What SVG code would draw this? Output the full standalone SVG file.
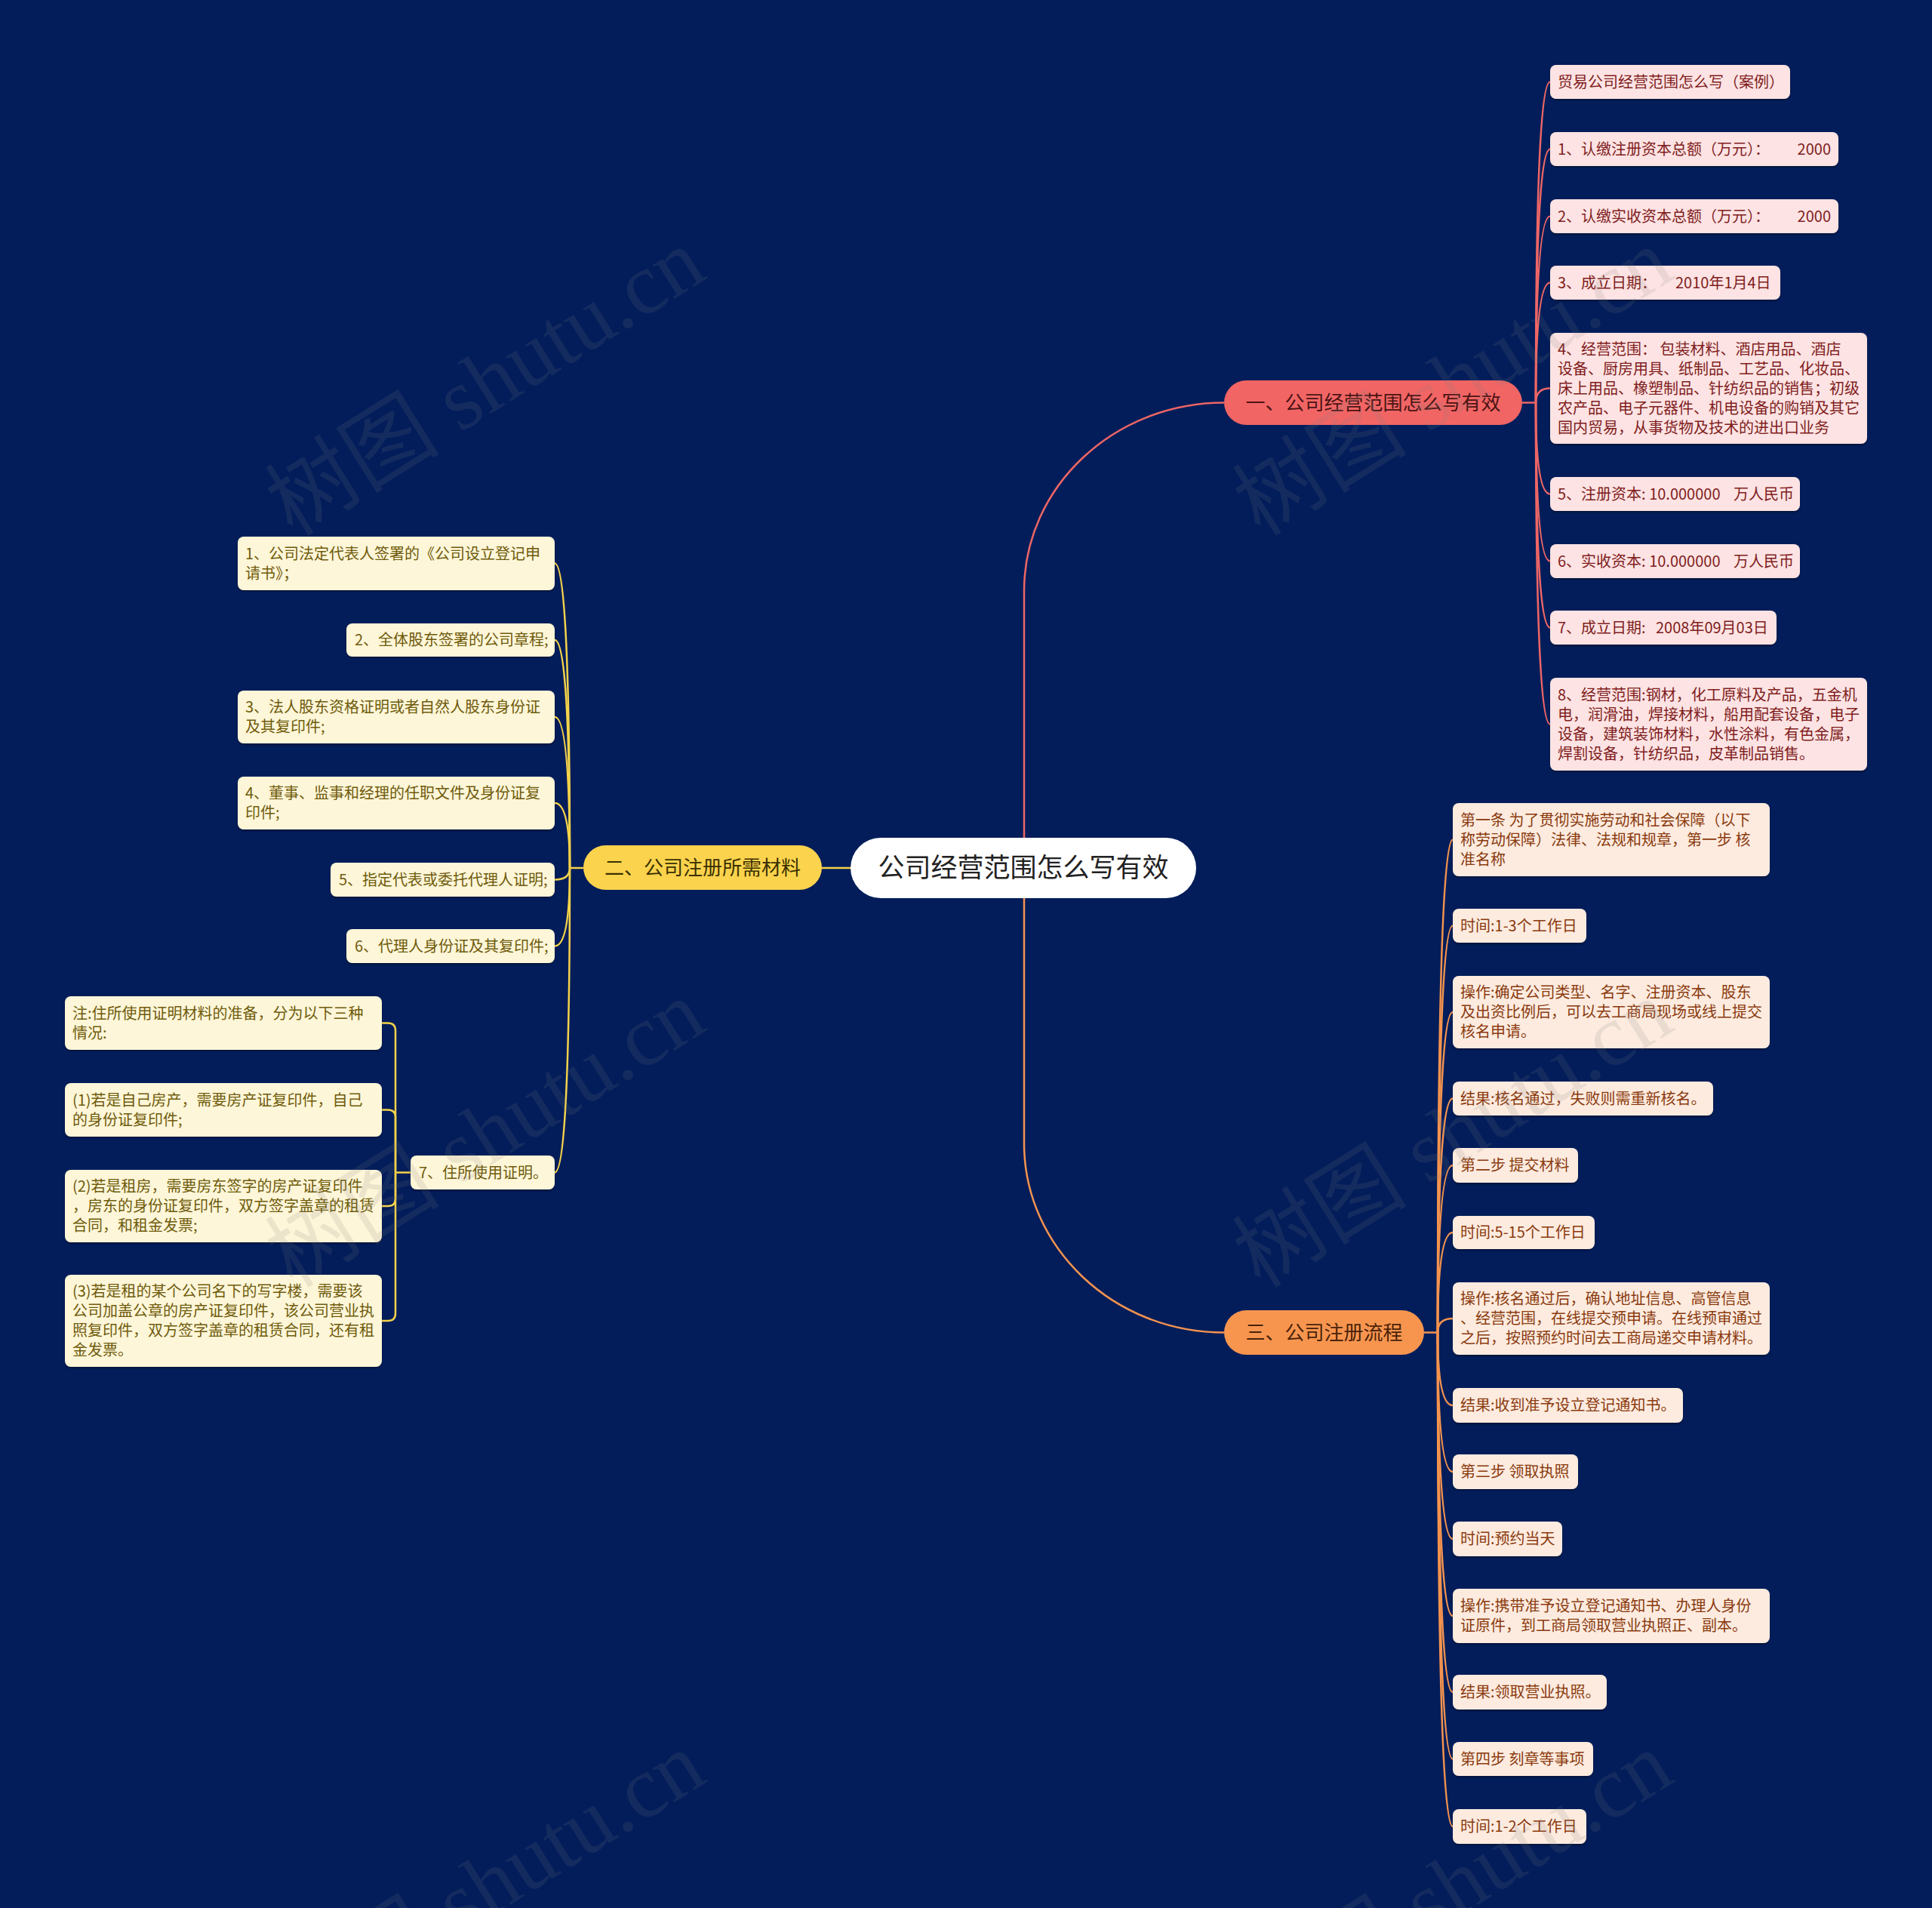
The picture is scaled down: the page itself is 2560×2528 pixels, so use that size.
<svg xmlns="http://www.w3.org/2000/svg" width="2560" height="2528" viewBox="0 0 2560 2528">
<defs>
<filter id="sh" x="-5%" y="-20%" width="110%" height="150%"><feDropShadow dx="0" dy="2" stdDeviation="1" flood-color="#000" flood-opacity="0.35"/></filter>
<style>
text{font-family:"Noto Sans CJK SC","Noto Sans",sans-serif;}
.lr{fill:#FDE3E3;filter:url(#sh)}
.lo{fill:#FDEBDF;filter:url(#sh)}
.ly{fill:#FEF6D8;filter:url(#sh)}
.tr{fill:#7F1D1D;font-size:20px}
.to{fill:#8A3A0E;font-size:20px}
.ty{fill:#6E5B0C;font-size:20px}
.bt{font-size:26px;text-anchor:middle}
.cr{fill:none;stroke:#EE6666;stroke-width:2.5}
.co{fill:none;stroke:#F4934F;stroke-width:2.5}
.cy{fill:none;stroke:#F5D24A;stroke-width:2.5}
.wm{font-family:"Liberation Serif","Noto Sans CJK SC",serif;font-size:116px;fill:#808080;opacity:0.14}
</style>
</defs>
<rect width="2560" height="2528" fill="#021D5A"/>
<g id="connectors">
<path class="cr" d="M1357 1150 V783 C1357 645 1476 533.5 1622 533.5" stroke-width="3"/>
<path class="co" d="M1357 1150 V1515 C1357 1653 1476 1765.5 1622 1765.5" stroke-width="3"/>
<path class="cy" d="M1357 1150 H1089" stroke-width="3"/>
<path class="cr" d="M2017 533.5 H2035"/>
<path class="cr" d="M2035 533.5 Q2035 108.5 2054 108.5"/>
<path class="cr" d="M2035 533.5 Q2035 197.5 2054 197.5"/>
<path class="cr" d="M2035 533.5 Q2035 286.5 2054 286.5"/>
<path class="cr" d="M2035 533.5 Q2035 374.5 2054 374.5"/>
<path class="cr" d="M2035 533.5 Q2035 514.5 2054 514.5"/>
<path class="cr" d="M2035 533.5 Q2035 654.5 2054 654.5"/>
<path class="cr" d="M2035 533.5 Q2035 743.5 2054 743.5"/>
<path class="cr" d="M2035 533.5 Q2035 831.5 2054 831.5"/>
<path class="cr" d="M2035 533.5 Q2035 959.5 2054 959.5"/>
<path class="co" d="M1887 1765.5 H1905"/>
<path class="co" d="M1905 1765.5 Q1905 1112.5 1925 1112.5"/>
<path class="co" d="M1905 1765.5 Q1905 1226.5 1925 1226.5"/>
<path class="co" d="M1905 1765.5 Q1905 1341 1925 1341"/>
<path class="co" d="M1905 1765.5 Q1905 1455.5 1925 1455.5"/>
<path class="co" d="M1905 1765.5 Q1905 1544 1925 1544"/>
<path class="co" d="M1905 1765.5 Q1905 1633 1925 1633"/>
<path class="co" d="M1905 1765.5 Q1905 1747 1925 1747"/>
<path class="co" d="M1905 1765.5 Q1905 1862 1925 1862"/>
<path class="co" d="M1905 1765.5 Q1905 1950 1925 1950"/>
<path class="co" d="M1905 1765.5 Q1905 2039 1925 2039"/>
<path class="co" d="M1905 1765.5 Q1905 2141 1925 2141"/>
<path class="co" d="M1905 1765.5 Q1905 2242 1925 2242"/>
<path class="co" d="M1905 1765.5 Q1905 2330.5 1925 2330.5"/>
<path class="co" d="M1905 1765.5 Q1905 2420 1925 2420"/>
<path class="cy" d="M773 1150 H755"/>
<path class="cy" d="M755 1150 Q755 746.5 735 746.5"/>
<path class="cy" d="M755 1150 Q755 848 735 848"/>
<path class="cy" d="M755 1150 Q755 950 735 950"/>
<path class="cy" d="M755 1150 Q755 1064 735 1064"/>
<path class="cy" d="M755 1150 Q755 1165.5 735 1165.5"/>
<path class="cy" d="M755 1150 Q755 1253.5 735 1253.5"/>
<path class="cy" d="M755 1150 Q755 1553.5 735 1553.5"/>
<path class="cy" d="M544 1553.5 H524"/>
<path class="cy" d="M524 1553.5 V1365.5 Q524 1355.5 514 1355.5 H506"/>
<path class="cy" d="M524 1553.5 V1480.5 Q524 1470.5 514 1470.5 H506"/>
<path class="cy" d="M524 1553.5 V1588 Q524 1598 514 1598 H506"/>
<path class="cy" d="M524 1553.5 V1740 Q524 1750 514 1750 H506"/>
</g>
<g id="root">
<rect x="1127" y="1110" width="458" height="80" rx="40" fill="#FFFFFF"/>
<text x="1356" y="1162" font-size="35" text-anchor="middle" fill="#222222">公司经营范围怎么写有效</text>
</g>
<g id="b1">
<rect x="1622" y="504" width="395" height="59" rx="29.5" fill="#F26565"/>
<text class="bt" x="1819.5" y="543" fill="#4A1414">一、公司经营范围怎么写有效</text>
</g>
<g id="b2">
<rect x="773" y="1120" width="316" height="59" rx="29.5" fill="#FBD34D"/>
<text class="bt" x="931" y="1159" fill="#3A3000">二、公司注册所需材料</text>
</g>
<g id="b3">
<rect x="1622" y="1736" width="265" height="59" rx="29.5" fill="#F7954F"/>
<text class="bt" x="1754.5" y="1775" fill="#4A2208">三、公司注册流程</text>
</g>
<g id="p1"><rect class="lr" x="2054" y="86" width="318" height="45" rx="8"/><text class="tr" x="2064" y="115.5">贸易公司经营范围怎么写（案例）</text></g>
<g id="p2"><rect class="lr" x="2054" y="175" width="382" height="45" rx="8"/><text class="tr" x="2064" y="204.5">1、认缴注册资本总额（万元）：</text><text class="tr" x="2426" y="204.5" text-anchor="end">2000</text></g>
<g id="p3"><rect class="lr" x="2054" y="264" width="382" height="45" rx="8"/><text class="tr" x="2064" y="293.5">2、认缴实收资本总额（万元）：</text><text class="tr" x="2426" y="293.5" text-anchor="end">2000</text></g>
<g id="p4"><rect class="lr" x="2054" y="352" width="305" height="45" rx="8"/><text class="tr" x="2064" y="381.5">3、成立日期：<tspan x="2220">2010年1月4日</tspan></text></g>
<g id="p5"><rect class="lr" x="2054" y="441" width="420" height="147" rx="8"/><text class="tr"><tspan x="2064" y="469.5">4、经营范围：  包装材料、酒店用品、酒店</tspan><tspan x="2064" y="495.5">设备、厨房用具、纸制品、工艺品、化妆品、</tspan><tspan x="2064" y="521.5">床上用品、橡塑制品、针纺织品的销售；初级</tspan><tspan x="2064" y="547.5">农产品、电子元器件、机电设备的购销及其它</tspan><tspan x="2064" y="573.5">国内贸易，从事货物及技术的进出口业务</tspan></text></g>
<g id="p6"><rect class="lr" x="2054" y="632" width="331" height="45" rx="8"/><text class="tr" x="2064" y="661.5">5、注册资本: 10.000000<tspan x="2297">万人民币</tspan></text></g>
<g id="p7"><rect class="lr" x="2054" y="721" width="331" height="45" rx="8"/><text class="tr" x="2064" y="750.5">6、实收资本: 10.000000<tspan x="2297">万人民币</tspan></text></g>
<g id="p8"><rect class="lr" x="2054" y="809" width="300" height="45" rx="8"/><text class="tr" x="2064" y="838.5">7、成立日期:<tspan x="2194">2008年09月03日</tspan></text></g>
<g id="p9"><rect class="lr" x="2054" y="898" width="420" height="123" rx="8"/><text class="tr"><tspan x="2064" y="927.5">8、经营范围:钢材，化工原料及产品，五金机</tspan><tspan x="2064" y="953.5">电，润滑油，焊接材料，船用配套设备，电子</tspan><tspan x="2064" y="979.5">设备，建筑装饰材料，水性涂料，有色金属，</tspan><tspan x="2064" y="1005.5">焊割设备，针纺织品，皮革制品销售。</tspan></text></g>
<g id="o1"><rect class="lo" x="1925" y="1064" width="420" height="97" rx="8"/><text class="to"><tspan x="1935" y="1093.5">第一条 为了贯彻实施劳动和社会保障（以下</tspan><tspan x="1935" y="1119.5">称劳动保障）法律、法规和规章，第一步 核</tspan><tspan x="1935" y="1145.5">准名称</tspan></text></g>
<g id="o2"><rect class="lo" x="1925" y="1204" width="177" height="45" rx="8"/><text class="to" x="1935" y="1233.5">时间:1-3个工作日</text></g>
<g id="o3"><rect class="lo" x="1925" y="1293" width="420" height="96" rx="8"/><text class="to"><tspan x="1935" y="1322">操作:确定公司类型、名字、注册资本、股东</tspan><tspan x="1935" y="1348">及出资比例后，可以去工商局现场或线上提交</tspan><tspan x="1935" y="1374">核名申请。</tspan></text></g>
<g id="o4"><rect class="lo" x="1925" y="1433" width="345" height="45" rx="8"/><text class="to" x="1935" y="1462.5">结果:核名通过，失败则需重新核名。</text></g>
<g id="o5"><rect class="lo" x="1925" y="1521" width="166" height="46" rx="8"/><text class="to" x="1935" y="1551">第二步 提交材料</text></g>
<g id="o6"><rect class="lo" x="1925" y="1611" width="188" height="44" rx="8"/><text class="to" x="1935" y="1640">时间:5-15个工作日</text></g>
<g id="o7"><rect class="lo" x="1925" y="1699" width="420" height="96" rx="8"/><text class="to"><tspan x="1935" y="1728">操作:核名通过后，确认地址信息、高管信息</tspan><tspan x="1935" y="1754">、经营范围，在线提交预申请。在线预审通过</tspan><tspan x="1935" y="1780">之后，按照预约时间去工商局递交申请材料。</tspan></text></g>
<g id="o8"><rect class="lo" x="1925" y="1839" width="305" height="46" rx="8"/><text class="to" x="1935" y="1869">结果:收到准予设立登记通知书。</text></g>
<g id="o9"><rect class="lo" x="1925" y="1927" width="166" height="46" rx="8"/><text class="to" x="1935" y="1957">第三步 领取执照</text></g>
<g id="o10"><rect class="lo" x="1925" y="2016" width="145" height="46" rx="8"/><text class="to" x="1935" y="2046">时间:预约当天</text></g>
<g id="o11"><rect class="lo" x="1925" y="2105" width="420" height="72" rx="8"/><text class="to"><tspan x="1935" y="2135">操作:携带准予设立登记通知书、办理人身份</tspan><tspan x="1935" y="2161">证原件，到工商局领取营业执照正、副本。</tspan></text></g>
<g id="o12"><rect class="lo" x="1925" y="2219" width="204" height="46" rx="8"/><text class="to" x="1935" y="2249">结果:领取营业执照。</text></g>
<g id="o13"><rect class="lo" x="1925" y="2308" width="186" height="45" rx="8"/><text class="to" x="1935" y="2337.5">第四步 刻章等事项</text></g>
<g id="o14"><rect class="lo" x="1925" y="2397" width="177" height="46" rx="8"/><text class="to" x="1935" y="2427">时间:1-2个工作日</text></g>
<g id="y1"><rect class="ly" x="315" y="711" width="420" height="71" rx="8"/><text class="ty"><tspan x="325" y="740.5">1、公司法定代表人签署的《公司设立登记申</tspan><tspan x="325" y="766.5">请书》；</tspan></text></g>
<g id="y2"><rect class="ly" x="459" y="826" width="276" height="44" rx="8"/><text class="ty" x="470" y="855">2、全体股东签署的公司章程;</text></g>
<g id="y3"><rect class="ly" x="315" y="915" width="420" height="70" rx="8"/><text class="ty"><tspan x="325" y="944">3、法人股东资格证明或者自然人股东身份证</tspan><tspan x="325" y="970">及其复印件;</tspan></text></g>
<g id="y4"><rect class="ly" x="315" y="1029" width="420" height="70" rx="8"/><text class="ty"><tspan x="325" y="1058">4、董事、监事和经理的任职文件及身份证复</tspan><tspan x="325" y="1084">印件;</tspan></text></g>
<g id="y5"><rect class="ly" x="438" y="1143" width="297" height="45" rx="8"/><text class="ty" x="449" y="1172.5">5、指定代表或委托代理人证明;</text></g>
<g id="y6"><rect class="ly" x="459" y="1231" width="276" height="45" rx="8"/><text class="ty" x="470" y="1260.5">6、代理人身份证及其复印件;</text></g>
<g id="y7"><rect class="ly" x="544" y="1531" width="191" height="45" rx="8"/><text class="ty" x="555" y="1560.5">7、住所使用证明。</text></g>
<g id="y7a"><rect class="ly" x="86" y="1320" width="420" height="71" rx="8"/><text class="ty"><tspan x="96" y="1349.5">注:住所使用证明材料的准备，分为以下三种</tspan><tspan x="96" y="1375.5">情况:</tspan></text></g>
<g id="y7b"><rect class="ly" x="86" y="1435" width="420" height="71" rx="8"/><text class="ty"><tspan x="96" y="1464.5">(1)若是自己房产，需要房产证复印件，自己</tspan><tspan x="96" y="1490.5">的身份证复印件;</tspan></text></g>
<g id="y7c"><rect class="ly" x="86" y="1550" width="420" height="96" rx="8"/><text class="ty"><tspan x="96" y="1579">(2)若是租房，需要房东签字的房产证复印件</tspan><tspan x="96" y="1605">，房东的身份证复印件，双方签字盖章的租赁</tspan><tspan x="96" y="1631">合同，和租金发票;</tspan></text></g>
<g id="y7d"><rect class="ly" x="86" y="1689" width="420" height="122" rx="8"/><text class="ty"><tspan x="96" y="1718">(3)若是租的某个公司名下的写字楼，需要该</tspan><tspan x="96" y="1744">公司加盖公章的房产证复印件，该公司营业执</tspan><tspan x="96" y="1770">照复印件，双方签字盖章的租赁合同，还有租</tspan><tspan x="96" y="1796">金发票。</tspan></text></g>
<g id="watermarks">
<text class="wm" transform="translate(388 712) rotate(-32)">树图 shutu.cn</text>
<text class="wm" transform="translate(1670 712) rotate(-32)">树图 shutu.cn</text>
<text class="wm" transform="translate(388 1708) rotate(-32)">树图 shutu.cn</text>
<text class="wm" transform="translate(1670 1708) rotate(-32)">树图 shutu.cn</text>
<text class="wm" transform="translate(388 2704) rotate(-32)">树图 shutu.cn</text>
<text class="wm" transform="translate(1670 2704) rotate(-32)">树图 shutu.cn</text>
</g>
</svg>
